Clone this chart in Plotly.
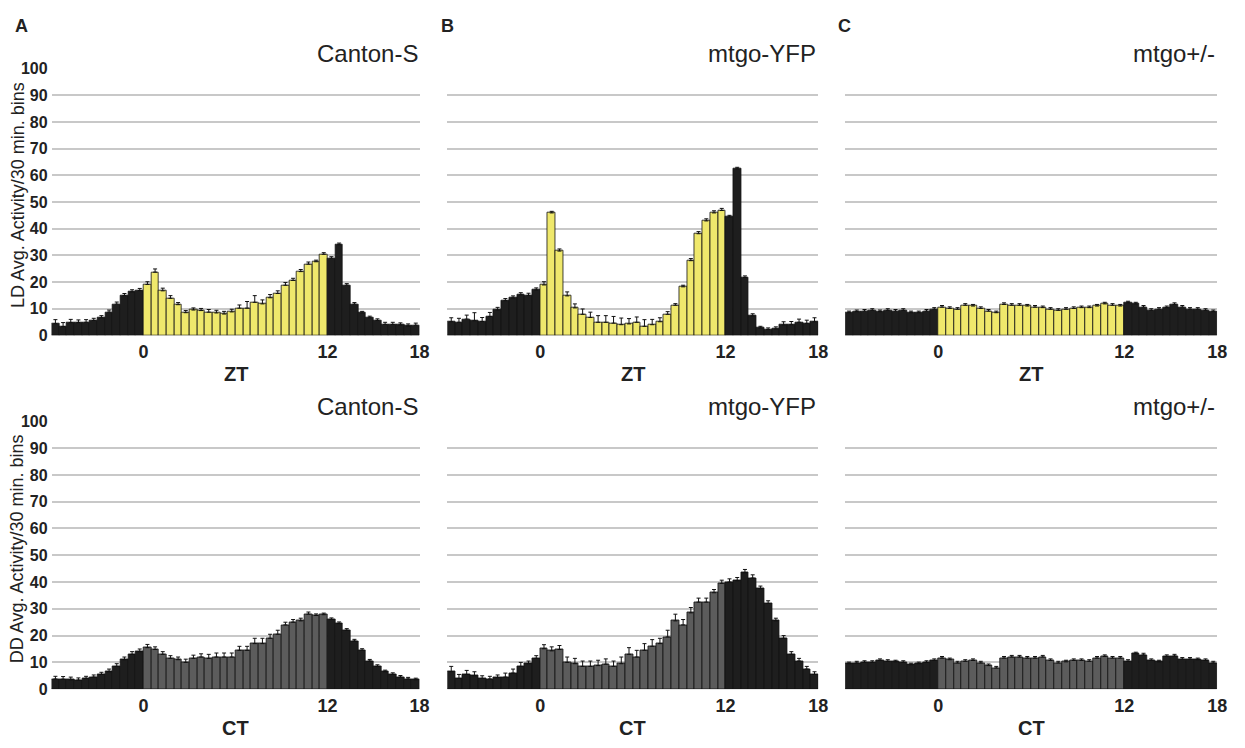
import numpy as np
import plotly.graph_objects as go

# 30-minute bins from -6 h to 18 h (bin centres)
bin_centres = np.arange(-6, 18, 0.5) + 0.25

# ---- LD (ZT) activity, mean and SEM per 30-min bin ----
ld_canton = [4.4, 3.3, 4.8, 4.8, 4.9, 5.6, 6.6, 8.7, 11.7, 14.9, 16.3, 16.8,
             19.1, 23.7, 16.7, 13.9, 11.5, 8.5, 9.5, 9.3, 8.7, 8.4, 8.0, 8.8,
             10.2, 10.2, 12.4, 11.8, 14.1, 15.7, 18.8, 20.6, 23.9, 26.7, 27.6, 30.4,
             28.9, 34.0, 18.8, 11.7, 8.4, 6.6, 5.6, 4.1, 4.1, 3.9, 3.5, 3.8]
ld_canton_sem = [1.5, 1.5, 1.2, 1.0, 1.0, 0.8, 0.8, 0.8, 0.8, 0.8, 0.8, 0.8,
                 1.0, 1.2, 1.0, 1.0, 0.8, 0.8, 0.8, 0.8, 1.0, 1.0, 1.0, 1.0,
                 1.2, 2.5, 2.5, 1.5, 1.2, 1.0, 1.0, 0.8, 0.8, 0.8, 0.6, 0.6,
                 0.6, 0.6, 0.6, 0.6, 0.6, 0.6, 0.6, 0.8, 0.8, 0.8, 0.8, 0.8]

ld_yfp = [5.1, 4.9, 6.1, 5.5, 5.2, 7.1, 9.5, 13.0, 14.0, 15.2, 15.0, 17.0,
          18.9, 45.9, 31.6, 14.8, 10.3, 7.9, 6.7, 4.9, 4.9, 4.6, 4.0, 4.3,
          4.9, 3.4, 4.0, 5.1, 7.9, 11.3, 18.2, 28.0, 38.1, 42.9, 45.9, 46.8,
          44.4, 62.4, 21.7, 7.3, 2.8, 2.2, 2.4, 3.9, 4.0, 4.9, 4.5, 5.1]
ld_yfp_sem = [1.5, 1.5, 1.5, 3.0, 1.5, 1.5, 1.0, 0.8, 0.8, 0.8, 0.8, 0.8,
              1.2, 0.6, 0.8, 1.5, 1.5, 2.0, 2.0, 2.5, 2.5, 2.5, 2.5, 2.0,
              2.0, 2.5, 2.0, 1.5, 1.0, 0.6, 0.6, 0.8, 0.8, 0.8, 0.8, 0.8,
              0.6, 0.6, 0.6, 0.8, 0.6, 0.6, 0.8, 1.2, 1.2, 1.2, 1.2, 1.5]

ld_het = [8.5, 8.9, 9.1, 9.4, 8.9, 9.4, 9.1, 9.4, 8.5, 8.5, 9.1, 9.8,
          10.6, 10.1, 9.8, 11.3, 11.0, 10.1, 9.1, 8.5, 11.6, 11.3, 11.3, 11.0,
          10.6, 10.4, 9.8, 9.4, 9.8, 10.1, 10.4, 10.4, 11.0, 11.8, 11.3, 11.0,
          12.2, 11.8, 10.6, 9.4, 9.8, 10.4, 11.6, 10.6, 9.8, 9.8, 9.4, 8.9]
ld_het_sem = [0.6] * 48

# ---- DD (CT) activity ----
dd_canton = [3.8, 3.7, 3.5, 3.4, 4.0, 4.5, 5.5, 6.5, 8.5, 11.0, 13.0, 14.0,
             15.5, 14.8, 13.0, 11.5, 11.0, 10.0, 11.5, 12.0, 11.5, 12.0, 12.0, 12.0,
             14.5, 14.5, 17.0, 17.0, 19.0, 20.5, 24.0, 25.0, 25.5, 28.0, 27.5, 27.8,
             26.0, 24.5, 22.0, 18.0, 14.5, 10.5, 8.5, 6.5, 5.5, 4.5, 3.8, 3.5]
dd_canton_sem = [1.0, 1.0, 1.0, 0.8, 0.8, 0.8, 0.8, 1.0, 1.0, 1.0, 1.0, 1.0,
                 1.2, 1.0, 1.0, 1.0, 1.0, 1.2, 1.2, 1.2, 1.5, 1.5, 1.5, 1.5,
                 1.5, 1.5, 2.0, 2.0, 1.5, 1.5, 1.0, 1.0, 1.0, 0.8, 0.6, 0.6,
                 0.6, 0.6, 0.6, 0.6, 0.6, 0.6, 0.6, 0.6, 0.6, 0.6, 0.6, 0.6]

dd_yfp = [6.5, 4.0, 5.5, 5.0, 4.0, 3.8, 4.3, 4.5, 6.0, 8.5, 9.5, 11.5,
          15.1, 14.3, 14.8, 10.0, 9.5, 8.5, 8.5, 8.8, 9.3, 8.5, 9.5, 13.0,
          12.0, 14.5, 16.0, 17.0, 19.5, 25.5, 24.0, 28.5, 32.5, 32.5, 36.0, 39.5,
          40.0, 40.5, 43.5, 41.5, 37.5, 32.0, 25.5, 19.0, 13.0, 10.5, 7.5, 5.5]
dd_yfp_sem = [2.0, 1.5, 1.5, 1.5, 1.0, 1.0, 1.0, 1.5, 1.5, 1.5, 1.0, 1.0,
              1.5, 1.5, 1.5, 2.0, 2.0, 2.0, 2.0, 2.0, 2.0, 2.0, 2.5, 2.5,
              2.5, 2.5, 2.5, 2.0, 2.5, 2.5, 2.0, 2.0, 1.5, 1.5, 1.2, 1.2,
              1.2, 1.2, 1.2, 1.2, 1.0, 1.0, 1.0, 1.0, 1.0, 1.0, 1.0, 1.0]

dd_het = [9.5, 9.8, 10.0, 10.0, 10.7, 10.4, 10.2, 10.0, 9.1, 9.5, 10.0, 10.7,
          11.6, 11.0, 9.8, 10.4, 10.7, 9.8, 8.8, 7.9, 11.6, 12.0, 12.0, 11.6,
          11.6, 12.0, 10.7, 9.8, 10.2, 10.7, 10.7, 10.4, 11.6, 12.2, 11.6, 11.6,
          10.4, 13.2, 12.8, 10.7, 10.2, 12.2, 12.4, 11.2, 11.2, 11.0, 10.7, 9.8]
dd_het_sem = [0.6] * 48

genotypes = ["Canton-S", "mtgo-YFP", "mtgo+/-"]
panel_letters = ["A", "B", "C"]
x_tick_values = [0, 12, 18]
x_tick_text = ["0", "12", "18"]
y_tick_values = list(range(0, 101, 10))

rows = [
    {"means": [ld_canton, ld_yfp, ld_het], "sems": [ld_canton_sem, ld_yfp_sem, ld_het_sem],
     "axis": "ZT", "light": "#EFE86C",
     "ylabel": "LD Avg. Activity/30 min. bins"},
    {"means": [dd_canton, dd_yfp, dd_het], "sems": [dd_canton_sem, dd_yfp_sem, dd_het_sem],
     "axis": "CT", "light": "#5C5C5C",
     "ylabel": "DD Avg. Activity/30 min. bins"},
]

W, H = 1245, 748
DARK = "#1E1E1E"
FONT = "Liberation Sans, Arial, sans-serif"

# panel geometry in pixels
col_px = [(52, 423), (451, 825), (852, 1227)]
row_px = [(62, 335), (423, 697)]   # (y of 100, y of 0)
letter_left_px = [13, 443, 843]

fig = go.Figure()
layout = dict(width=W, height=H, margin=dict(l=0, r=0, t=0, b=0),
              paper_bgcolor="white", plot_bgcolor="white",
              showlegend=False, bargap=0, font=dict(family=FONT, color="#222"))
annotations = []

for r, row in enumerate(rows):
    ytop, ybot = row_px[r]
    for c in range(3):
        k = r * 3 + c + 1
        xa = "x" if k == 1 else f"x{k}"
        ya = "y" if k == 1 else f"y{k}"
        colors = [row["light"] if 0 <= t < 12 else DARK for t in bin_centres]
        fig.add_trace(go.Bar(
            x=bin_centres, y=row["means"][c], width=0.5,
            marker=dict(color=colors, line=dict(color="#111", width=0.8)),
            error_y=dict(type="data", array=row["sems"][c],
                         arrayminus=[0] * 48, symmetric=False,
                         color="#111", thickness=1, width=2),
            xaxis=xa, yaxis=ya,
        ))
        x0, x1 = col_px[c]
        layout[f"xaxis{'' if k == 1 else k}"] = dict(
            domain=[x0 / W, x1 / W], range=[-6, 18], anchor=ya,
            tickvals=x_tick_values, ticktext=x_tick_text,
            showgrid=False, zeroline=False, showline=False, ticks="",
            tickfont=dict(size=18, weight=700, color="#222"),
            ticklabelstandoff=4,
        )
        layout[f"yaxis{'' if k == 1 else k}"] = dict(
            domain=[1 - ybot / H, 1 - ytop / H], range=[0, 100], anchor=xa,
            tickvals=y_tick_values, showticklabels=(c == 0),
            showgrid=True, gridcolor="#C8C8C8", gridwidth=1.6,
            zeroline=False, showline=False, ticks="",
            tickfont=dict(size=16, weight=700, color="#222"),
            ticklabelstandoff=3,
        )
        # genotype title, right-aligned over each panel
        annotations.append(dict(
            text=genotypes[c], xref="paper", yref="paper",
            x=x1 / W, y=1 - (ytop - 15) / H, xanchor="right", yanchor="middle",
            showarrow=False, font=dict(size=24, color="#222")))
        # x-axis title
        annotations.append(dict(
            text=row["axis"], xref="paper", yref="paper",
            x=(x0 + x1) / 2 / W, y=1 - (ybot + 40) / H,
            xanchor="center", yanchor="middle", showarrow=False,
            font=dict(size=20, weight=700, color="#222")))
    # y-axis title
    annotations.append(dict(
        text=row["ylabel"], xref="paper", yref="paper",
        x=18 / W, y=1 - (ytop + ybot - 14) / 2 / H, textangle=-90,
        xanchor="center", yanchor="middle", showarrow=False,
        font=dict(size=18, color="#222")))

for c, letter in enumerate(panel_letters):
    annotations.append(dict(
        text=letter, xref="paper", yref="paper",
        x=letter_left_px[c] / W, y=1 - 18 / H,
        xanchor="left", yanchor="middle", showarrow=False,
        font=dict(size=18, weight=700, color="#222")))

layout["annotations"] = annotations
fig.update_layout(**layout)
fig.write_html("out.html")
